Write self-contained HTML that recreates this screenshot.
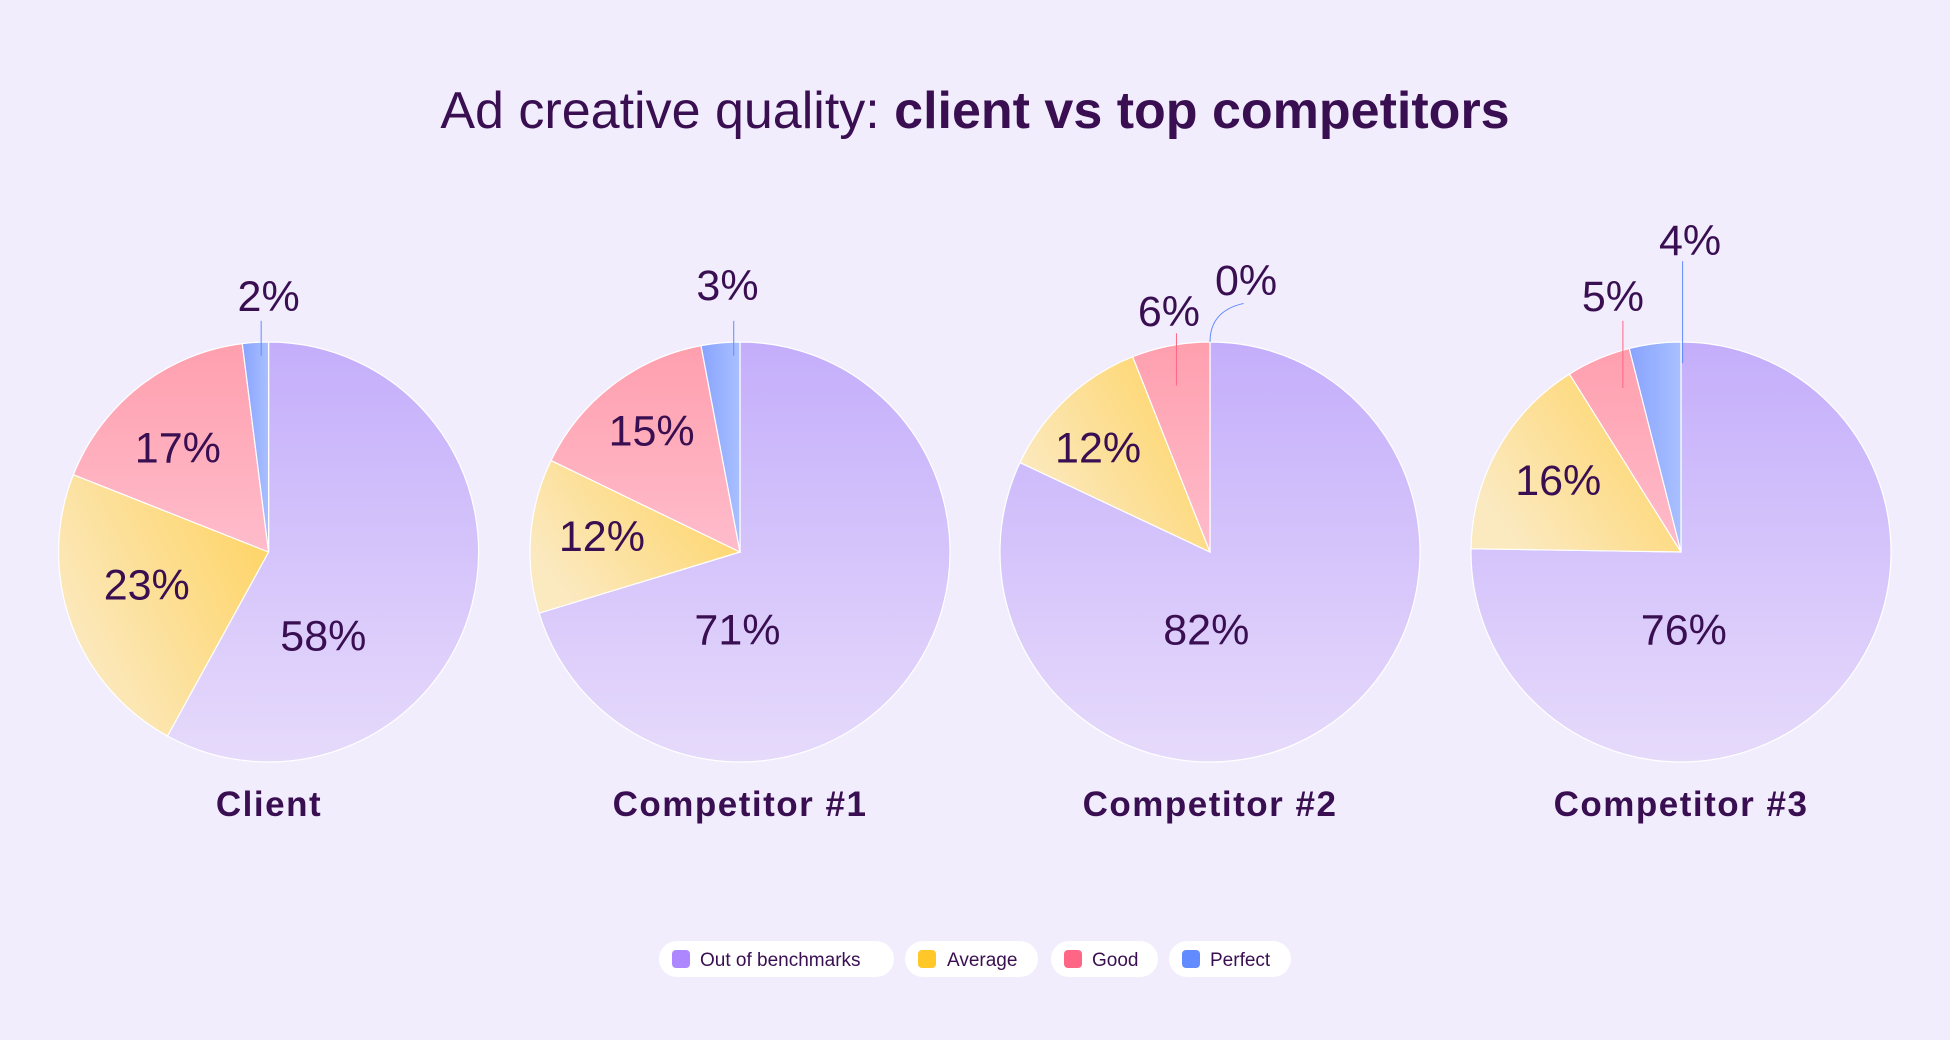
<!DOCTYPE html>
<html><head><meta charset="utf-8"><style>
html,body{margin:0;padding:0;background:#f1edfd;}
body{width:1950px;height:1035px;overflow:hidden;font-family:"Liberation Sans",sans-serif;}
</style></head><body>
<svg id="s" width="1950" height="1035" viewBox="0 0 1950 1035" xmlns="http://www.w3.org/2000/svg">
<defs>
<linearGradient id="gp" x1="0" y1="0" x2="0" y2="1"><stop offset="0" stop-color="#c4aefb"/><stop offset="1" stop-color="#e6dafb"/></linearGradient>
<linearGradient id="gy" x1="1" y1="0" x2="0" y2="0.6"><stop offset="0" stop-color="#ffd25c"/><stop offset="1" stop-color="#fbe9c0"/></linearGradient>
<linearGradient id="gk" x1="0" y1="0" x2="0" y2="1"><stop offset="0" stop-color="#ff9fae"/><stop offset="1" stop-color="#ffbccb"/></linearGradient>
<linearGradient id="gb" x1="0" y1="0" x2="1" y2="0"><stop offset="0" stop-color="#88a3ff"/><stop offset="1" stop-color="#a9c0ff"/></linearGradient>
</defs>
<rect width="1950" height="1035" fill="#f1edfd"/>
<text x="975" y="128" text-anchor="middle" font-size="52" fill="#3a0f52">Ad creative quality: <tspan font-weight="bold">client vs top competitors</tspan></text>
<g id="pies"></g>
<g font-size="35" font-weight="bold" fill="#3a0f52" text-anchor="middle" letter-spacing="1.5">
<text x="269" y="816">Client</text>
<text x="740" y="816">Competitor #1</text>
<text x="1210" y="816">Competitor #2</text>
<text x="1681" y="816">Competitor #3</text>
</g>
<g font-size="19" fill="#3a0f52">
<rect x="659" y="941" width="235" height="36" rx="18" fill="#fff"/><rect x="672" y="950" width="18" height="18" rx="4" fill="#ad87ff"/><text x="700" y="966">Out of benchmarks</text>
<rect x="905" y="941" width="133" height="36" rx="18" fill="#fff"/><rect x="918" y="950" width="18" height="18" rx="4" fill="#ffc727"/><text x="947" y="966">Average</text>
<rect x="1051" y="941" width="107" height="36" rx="18" fill="#fff"/><rect x="1064" y="950" width="18" height="18" rx="4" fill="#ff6584"/><text x="1092" y="966">Good</text>
<rect x="1169" y="941" width="122" height="36" rx="18" fill="#fff"/><rect x="1182" y="950" width="18" height="18" rx="4" fill="#628bff"/><text x="1210" y="966">Perfect</text>
</g>
</svg>
<script>
var k=1.2436,R=210,cy=552;
var data=[
 {cx:268.6,v:[58,23,17,2],L:[[260,511],[118,470],[143,360],[216,238]],line:[210,258,210,286]},
 {cx:740,v:[71,12,15,3],L:[[593,506],[484,431],[524,346],[585,229]],line:[590,258,590,286]},
 {cx:1210,v:[82,12,6,0],L:[[970,506],[883,360],[940,250],[1002,225]],line:[946,268,946,310],curve:true},
 {cx:1681,v:[76,16,5,4],L:[[1354,506],[1253,386],[1297,238],[1359,193]],line:[1305,258,1305,312],line2:[1353,210,1353,292]}
];
var fills=["url(#gp)","url(#gy)","url(#gk)","url(#gb)"];
var g=document.getElementById("pies"),h="";
data.forEach(function(d){
 var s=d.v.reduce(function(a,b){return a+b},0),a=0;
 d.v.forEach(function(v,i){
  if(v<=0)return;
  var a0=a,a1=a+v/s*2*Math.PI;a=a1;
  var x0=d.cx+R*Math.sin(a0),y0=cy-R*Math.cos(a0),x1=d.cx+R*Math.sin(a1),y1=cy-R*Math.cos(a1);
  h+='<path d="M'+d.cx+','+cy+' L'+x0+','+y0+' A'+R+','+R+' 0 '+((a1-a0)>Math.PI?1:0)+' 1 '+x1+','+y1+' Z" fill="'+fills[i]+'" stroke="#fff" stroke-width="1.2"/>';
 });
 var l=d.line;
 h+='<line x1="'+l[0]*k+'" y1="'+l[1]*k+'" x2="'+l[2]*k+'" y2="'+l[3]*k+'" stroke="'+(d.line2||d.curve?'#ff6584':'#628bff')+'" stroke-width="1"/>';
 if(d.line2){var m=d.line2;h+='<line x1="'+m[0]*k+'" y1="'+m[1]*k+'" x2="'+m[2]*k+'" y2="'+m[3]*k+'" stroke="#628bff" stroke-width="1"/>';}
 if(d.curve){h+='<path d="M'+(d.cx)+','+(cy-R)+' Q'+(d.cx)+','+(250*k)+' '+(1000*k)+','+(244*k)+'" fill="none" stroke="#628bff" stroke-width="1"/>';}
 d.L.forEach(function(p,i){
  h+='<text x="'+p[0]*k+'" y="'+(p[1]*k+15)+'" text-anchor="middle" font-size="43" fill="#3a0f52">'+d.v[i]+'%</text>';
 });
});
g.innerHTML=h;
</script>
</body></html>
